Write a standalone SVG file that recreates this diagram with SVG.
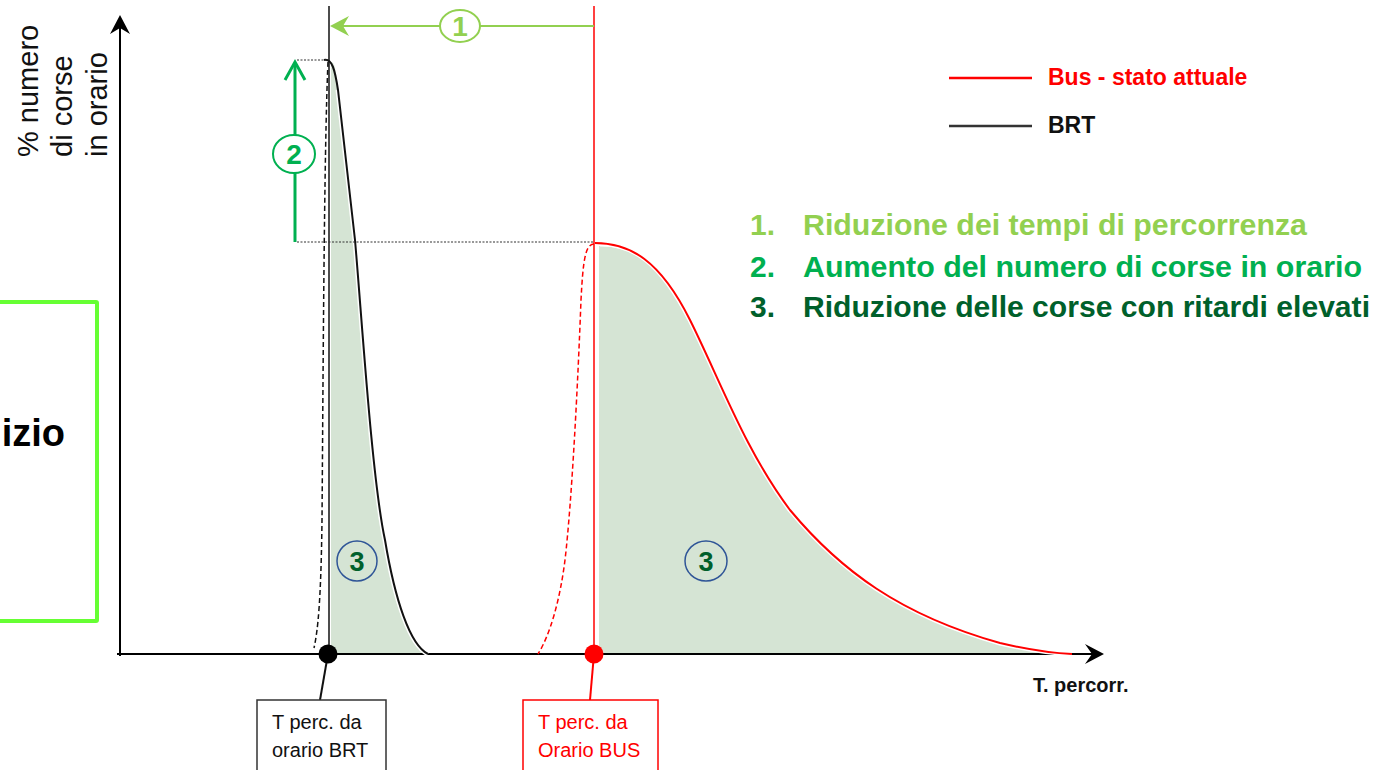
<svg xmlns="http://www.w3.org/2000/svg" width="1384" height="770" viewBox="0 0 1384 770">
<defs>
<style>
text{font-family:"Liberation Sans",Arial,sans-serif}
.b{font-weight:bold}
.area{fill:#d5e4d4;stroke:none}
.halo{fill:none;stroke:#fff;stroke-width:5}
.blk{fill:none;stroke:#111;stroke-width:2}
.red{fill:none;stroke:#ff0000;stroke-width:2}
.dash{stroke-dasharray:5,3;stroke-width:1.5}
.dot{fill:none;stroke:#333;stroke-width:1.2;stroke-dasharray:2,1.5}
.c3{fill:none;stroke:#2f5597;stroke-width:1.5}
.t3{font-size:27px;font-weight:bold;fill:#00602b;text-anchor:middle}
.box{font-size:20px}
</style>
</defs>
<rect width="1384" height="770" fill="#fff"/>

<g id="frame-box">
<rect x="-10" y="302" width="107" height="319" rx="1" fill="none" stroke="#66ff33" stroke-width="4"/>
<text x="65" y="446" text-anchor="end" class="b" font-size="38" fill="#000">izio</text>
</g>

<g id="y-label" font-size="29" fill="#111">
<text transform="translate(38,157) rotate(-90)">% numero</text>
<text transform="translate(72,157) rotate(-90)">di corse</text>
<text transform="translate(107,157) rotate(-90)">in orario</text>
</g>

<g id="areas">
<path class="area" d="M331,654 L331,62 C335,62 336,72 338,90 L355,240 C362,320 372,480 385,540 C395,600 410,645 428,654 Z"/>
<path class="area" d="M599,654 L599,246 C630,246 660,262 690,320 C720,380 745,450 790,510 C840,570 900,615 1000,643 C1030,650 1050,653 1072,654 Z"/>
</g>

<g id="axes">
<line x1="120" y1="656" x2="120" y2="26" stroke="#000" stroke-width="2"/>
<polygon points="120,15 110,34 120,28 130,34" fill="#000"/>
<line x1="117" y1="654" x2="1095" y2="654" stroke="#000" stroke-width="2"/>
<polygon points="1104,654 1085,644 1092,654 1085,664" fill="#000"/>
<text x="1033" y="692" class="b" font-size="20" fill="#111">T. percorr.</text>
</g>

<g id="brt-curve">
<line x1="329" y1="6" x2="329" y2="654" stroke="#111" stroke-width="1.5"/>
<path class="halo" d="M338,90 L355,240 C362,320 372,480 385,540 C395,600 410,645 428,654"/>
<path class="blk" d="M324,60 C332,58 335,70 338,90 L355,240 C362,320 372,480 385,540 C395,600 410,645 428,654"/>
<path class="blk dash" d="M328,62 C324,150 323,400 322,520 C321,600 318,630 314,648"/>
</g>

<g id="bus-curve">
<line x1="594" y1="6" x2="594" y2="654" stroke="#ff0000" stroke-width="1.5"/>
<path class="halo" d="M600,244 C630,243 660,260 690,320 C720,380 745,450 790,510 C840,570 900,615 1000,643 C1030,650 1050,653 1072,654"/>
<path class="red" d="M595,243 C630,243 660,260 690,320 C720,380 745,450 790,510 C840,570 900,615 1000,643 C1030,650 1050,653 1072,654"/>
<path class="red dash" d="M594,244 C585,244 583,262 581,300 C578,380 572,500 565,560 C560,600 550,635 538,654"/>
</g>

<g id="guides">
<path class="dot" d="M297,60 H329"/>
<path class="dot" d="M297,242 H594"/>
</g>

<g id="arrow-1">
<line x1="594" y1="26" x2="336" y2="26" stroke="#92d050" stroke-width="2"/>
<polygon points="330,26 349,16 343,26 349,36" fill="#92d050"/>
<ellipse cx="460" cy="26" rx="20" ry="16" fill="#fff" stroke="#92d050" stroke-width="2"/>
<text x="460" y="36" text-anchor="middle" class="b" font-size="28" fill="#92d050">1</text>
</g>

<g id="arrow-2">
<line x1="295" y1="242" x2="295" y2="64" stroke="#00b050" stroke-width="3"/>
<polyline points="285,80 295,62 305,80" fill="none" stroke="#00b050" stroke-width="3"/>
<ellipse cx="294" cy="154" rx="21" ry="19" fill="#fff" stroke="#00b050" stroke-width="2"/>
<text x="294" y="164" text-anchor="middle" class="b" font-size="28" fill="#00b050">2</text>
</g>

<g id="label-3-brt">
<circle class="c3" cx="357" cy="561" r="20"/>
<text class="t3" x="357" y="571">3</text>
</g>
<g id="label-3-bus">
<ellipse class="c3" cx="706" cy="561" rx="21" ry="20"/>
<text class="t3" x="706" y="571">3</text>
</g>

<g id="connectors">
<line x1="328" y1="654" x2="320" y2="700" stroke="#111" stroke-width="2"/>
<line x1="594" y1="654" x2="590" y2="700" stroke="#ff0000" stroke-width="2"/>
</g>

<g id="point-brt">
<circle cx="328" cy="654" r="9.5" fill="#000"/>
</g>
<g id="point-bus">
<circle cx="594" cy="654" r="9.5" fill="#ff0000"/>
</g>

<g id="box-brt">
<rect x="257" y="700" width="129" height="76" fill="#fff" stroke="#333" stroke-width="1.5"/>
<text class="box" x="272" y="729" fill="#111">T perc. da</text>
<text class="box" x="272" y="757" fill="#111">orario BRT</text>
</g>
<g id="box-bus">
<rect x="523" y="700" width="135" height="76" fill="#fff" stroke="#ff0000" stroke-width="1.5"/>
<text class="box" x="538" y="729" fill="#ff0000">T perc. da</text>
<text class="box" x="538" y="757" fill="#ff0000">Orario BUS</text>
</g>

<g id="legend">
<line x1="949" y1="78" x2="1032" y2="78" stroke="#ff0000" stroke-width="2.5"/>
<text x="1048" y="85" class="b" font-size="23" fill="#ff0000">Bus - stato attuale</text>
<line x1="949" y1="126" x2="1032" y2="126" stroke="#333" stroke-width="2.5"/>
<text x="1048" y="133" class="b" font-size="23" fill="#111">BRT</text>
</g>

<g id="effects" class="b" font-size="30">
<text x="750" y="235" fill="#92d050">1.</text>
<text x="803" y="235" fill="#92d050" textLength="504" lengthAdjust="spacingAndGlyphs">Riduzione dei tempi di percorrenza</text>
<text x="750" y="277" fill="#00b050">2.</text>
<text x="803" y="277" fill="#00b050" textLength="559" lengthAdjust="spacingAndGlyphs">Aumento del numero di corse in orario</text>
<text x="750" y="317" fill="#00602b">3.</text>
<text x="803" y="317" fill="#00602b" textLength="567" lengthAdjust="spacingAndGlyphs">Riduzione delle corse con ritardi elevati</text>
</g>
</svg>
